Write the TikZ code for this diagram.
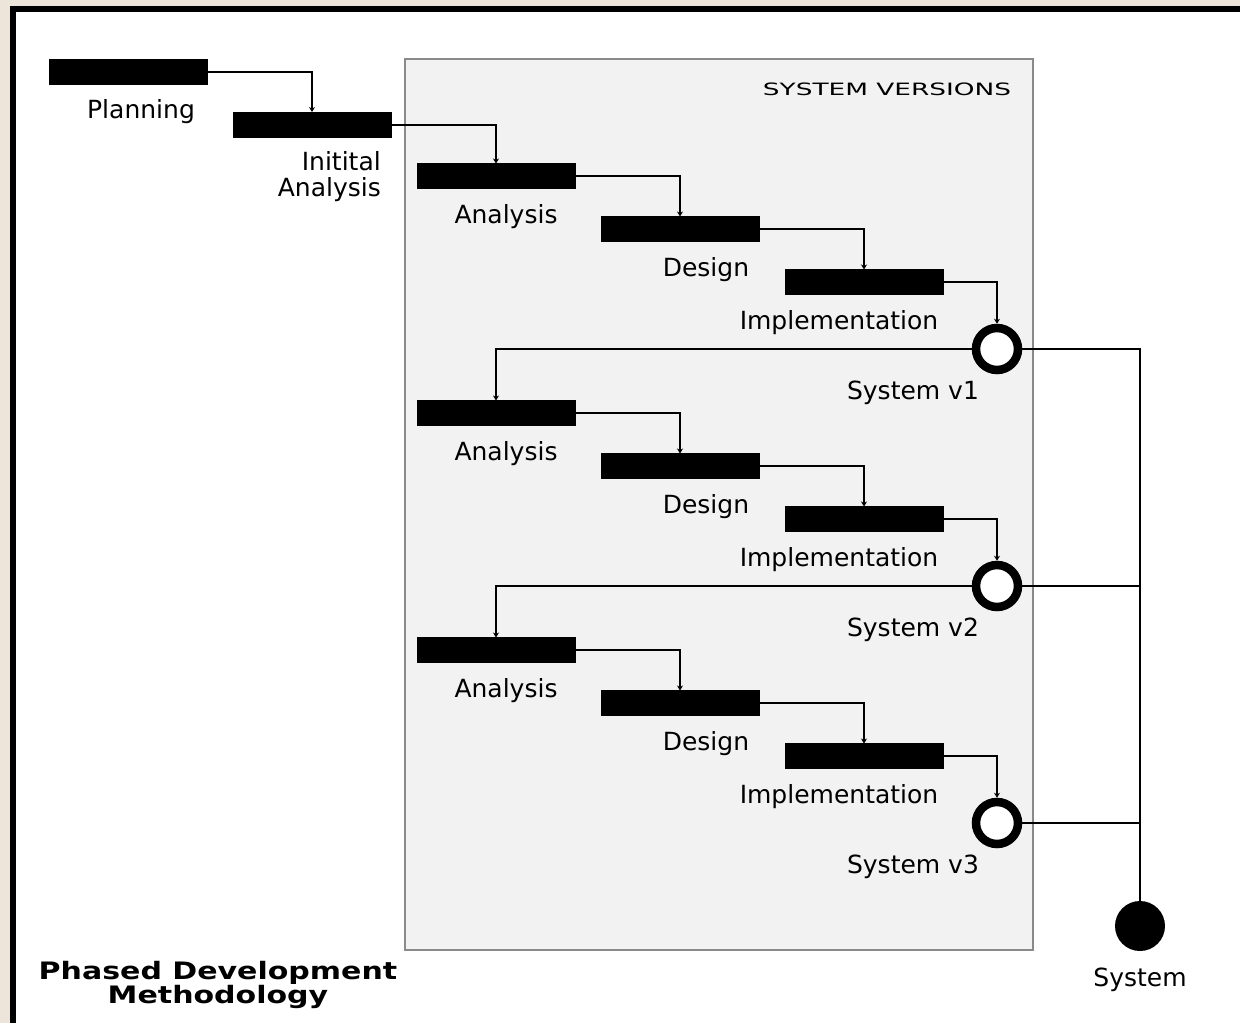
\documentclass[tikz,border=0pt]{standalone}
\usepackage{fontspec}
\setmainfont{DejaVu Sans}
\usetikzlibrary{arrows.meta}
\definecolor{beige}{HTML}{EDE4DA}
\definecolor{panel}{HTML}{F2F2F2}
\definecolor{panelline}{HTML}{8A8A8A}
\begin{document}
\begin{tikzpicture}[x=1pt,y=-1pt,
  bar/.style={draw=black,fill=black,minimum width=158pt,minimum height=25pt,inner sep=0pt,outer sep=0pt},
  ring/.style={circle,draw=black,line width=8.5pt,fill=white,minimum size=42pt,inner sep=0pt},
  dot/.style={circle,fill=black,minimum size=50pt,inner sep=0pt},
  lbl/.style={inner sep=0pt,font=\fontsize{25}{26}\selectfont},
  conn/.style={draw=black,line width=2pt,-{Stealth[length=5pt,width=6pt]}},
  plain/.style={draw=black,line width=2pt}]
\useasboundingbox (0,0) rectangle (1240,1023);
\clip (0,0) rectangle (1240,1023);
\fill[beige] (0,0) rectangle (1240,1023);
\draw[line width=6pt,fill=white] (13,9) rectangle (1270,1050);
% system versions panel
\draw[panelline,line width=2pt,fill=panel] (405,59) rectangle (1033,950);
\node[inner sep=0pt] (svtitle) at (887,89) {\scalebox{1.55}[1]{\fontsize{17}{18}\selectfont SYSTEM VERSIONS}};
% top bars
\node[bar] (plan) at (128,71.5) {};
\node[lbl] (planl) at (141,112) {Planning};
\node[bar] (init) at (312,124.5) {};
\node[lbl,align=right,anchor=east] (initl) at (381,177) {Initital\\Analysis};
\draw[conn] (plan.east) -| (init.north);
% groups
\foreach \g/\dy/\v in {1/0/1,2/237/2,3/474/3}{
  \node[bar] (an\g) at (496,176+\dy) {};
  \node[bar] (de\g) at (680,229+\dy) {};
  \node[bar] (im\g) at (864,282+\dy) {};
  \node[ring] (c\g) at (997,349+\dy) {};
  \node[lbl] (anl\g) at (506,217+\dy) {Analysis};
  \node[lbl] (del\g) at (706,270+\dy) {Design};
  \node[lbl] (iml\g) at (839,323+\dy) {Implementation};
  \node[lbl] (cl\g) at (913,393+\dy) {System v\v};
  \draw[conn] (an\g.east) -| (de\g.north);
  \draw[conn] (de\g.east) -| (im\g.north);
  \draw[conn] (im\g.east) -| (c\g.north);
}
\draw[conn] (init.east) -| (an1.north);
\draw[conn] (c1.west) -| (an2.north);
\draw[conn] (c2.west) -| (an3.north);
% final system
\node[dot] (sys) at (1140,926) {};
\node[lbl] (sysl) at (1140,980) {System};
\draw[plain] (c1.east) -| (sys.north);
\draw[plain] (c2.east) -- (c2.east -| sys.north);
\draw[plain] (c3.east) -- (c3.east -| sys.north);
% title
\node[inner sep=0pt,align=center] (title) at (218,985) {\scalebox{1.25}[1]{\fontsize{24}{26}\selectfont\bfseries Phased Development}\\\scalebox{1.25}[1]{\fontsize{24}{26}\selectfont\bfseries Methodology}};
\end{tikzpicture}
\end{document}
